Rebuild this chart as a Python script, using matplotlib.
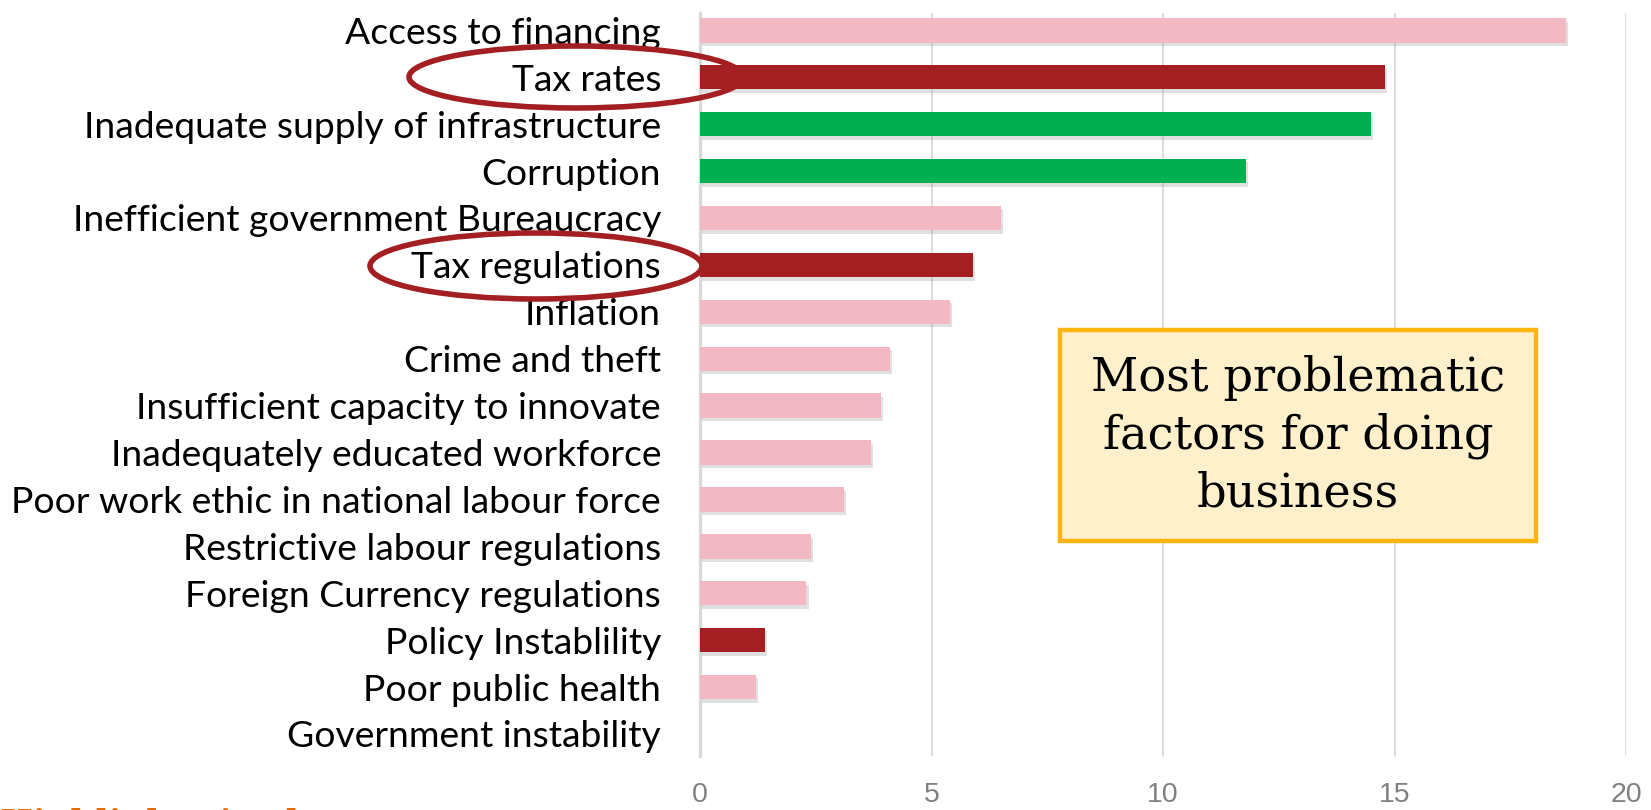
import matplotlib
matplotlib.use("Agg")
import matplotlib.pyplot as plt
from matplotlib.patches import Ellipse, FancyBboxPatch
import matplotlib.patheffects as pe

categories = [
    "Access to financing",
    "Tax rates",
    "Inadequate supply of infrastructure",
    "Corruption",
    "Inefficient government Bureaucracy",
    "Tax regulations",
    "Inflation",
    "Crime and theft",
    "Insufficient capacity to innovate",
    "Inadequately educated workforce",
    "Poor work ethic in national labour force",
    "Restrictive labour regulations",
    "Foreign Currency regulations",
    "Policy Instablility",
    "Poor public health",
    "Government instability",
]
values = [18.7, 14.8, 14.5, 11.8, 6.5, 5.9, 5.4, 4.1, 3.9, 3.7, 3.1, 2.4, 2.3, 1.4, 1.2, 0.0]
groups = ["other", "tax", "focus", "focus", "other", "tax", "other", "other",
          "other", "other", "other", "other", "other", "tax", "other", "other"]
xticks = [0, 5, 10, 15, 20]
box_text = "Most problematic\nfactors for doing\nbusiness"
footer_text = "Highlights in the current"

palette = {"other": "#F2B8C3", "tax": "#A31F22", "focus": "#00B050"}

W, H = 1651, 810
fig = plt.figure(figsize=(W / 100, H / 100), dpi=100)
ax = fig.add_axes([700 / W, 1 - 756 / H, (1626 - 700) / W, (756 - 13) / H])

ypos = list(range(len(categories)))
bars = ax.barh(ypos, values, height=0.52, color=[palette[g] for g in groups], zorder=3)
for b in bars:
    b.set_path_effects([pe.SimplePatchShadow(offset=(1.5, -2.5), shadow_rgbFace="#999999", alpha=0.3),
                        pe.Normal()])

ax.set_xlim(0, 20)
ax.set_ylim(15.47, -0.37)
ax.set_xticks(xticks)
ax.set_xticklabels([str(t) for t in xticks], fontsize=20.5, family="Liberation Sans", color="#808080")
ax.tick_params(axis="x", length=0, pad=19)
ax.set_yticks(ypos)
ax.set_yticklabels(categories, fontsize=26.8, family="Lato", color="black")
ax.tick_params(axis="y", length=0, pad=28)
ax.grid(axis="x", color="#D9D9D9", linewidth=1.3, zorder=0)
for s in ["top", "right", "bottom"]:
    ax.spines[s].set_visible(False)
ax.spines["left"].set_color("#D9D9D9")
ax.spines["left"].set_linewidth(2.4)
ax.spines["left"].set_zorder(1)

# ellipses around tax labels (figure pixel coordinates converted to fractions)
def fig_ellipse(cx, cy, w, h):
    e = Ellipse((cx / W, 1 - cy / H), w / W, h / H, transform=fig.transFigure,
                fill=False, edgecolor="#A31F22", linewidth=4.0, zorder=10)
    fig.add_artist(e)

fig_ellipse(576, 77, 334, 62)
fig_ellipse(536, 266, 332, 66)

# annotation box
bx0, bx1, by0, by1 = 1060, 1536, 330, 541
box = FancyBboxPatch((bx0 / W, 1 - by1 / H), (bx1 - bx0) / W, (by1 - by0) / H,
                     boxstyle="square,pad=0", transform=fig.transFigure,
                     facecolor="#FFF0CC", edgecolor="#FFB50F", linewidth=3.2, zorder=8)
fig.add_artist(box)
fig.text((bx0 + bx1) / 2 / W, 1 - (by0 + by1) / 2 / H, box_text, ha="center", va="center",
         fontsize=33.3, family="DejaVu Serif", linespacing=1.33, color="black", zorder=9)

# footer heading, cut off by the bottom edge as in the original
fig.text(0.0, 1 - 808 / H, footer_text, ha="left", va="top", fontsize=25,
         family="DejaVu Serif", weight="bold", color="#E36C09")

fig.savefig("out.png", dpi=100)
